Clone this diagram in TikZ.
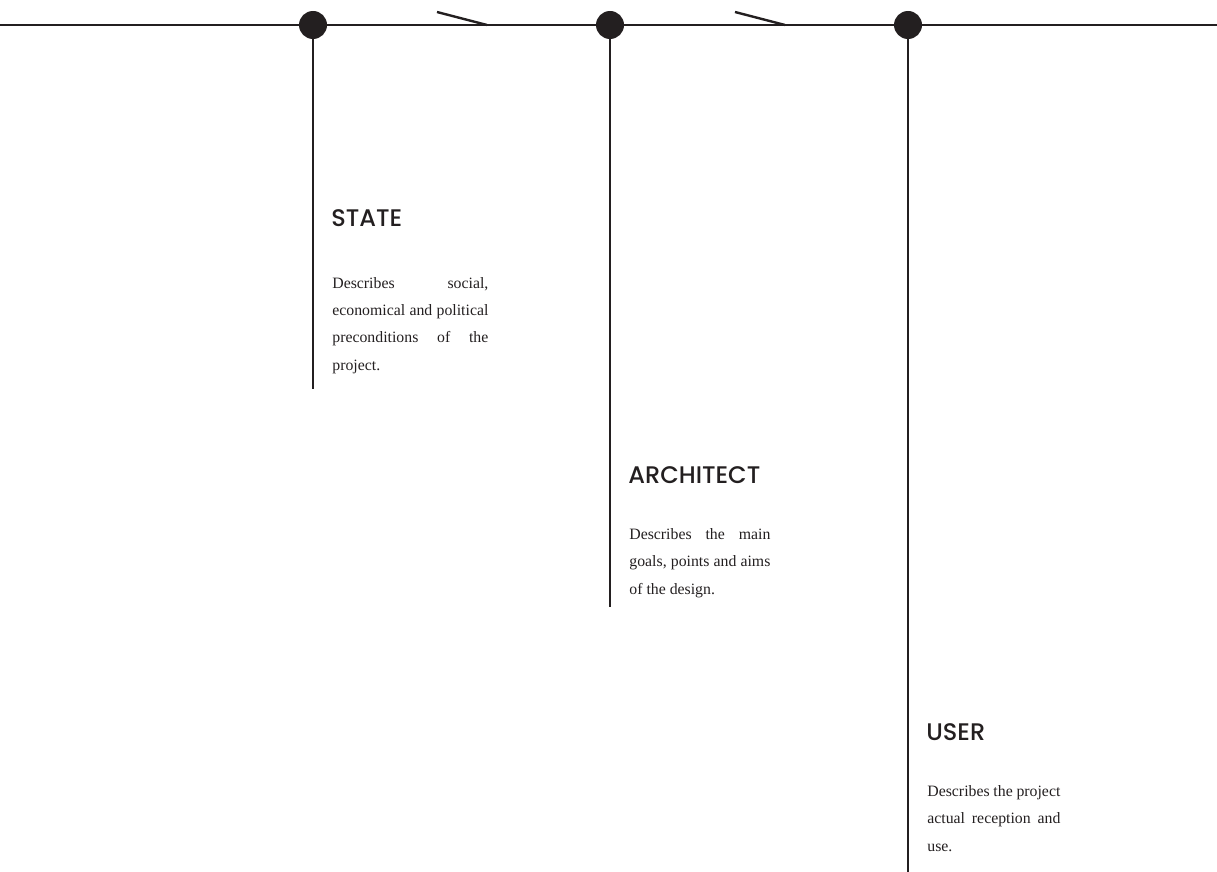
\documentclass[tikz,border=0pt]{standalone}
\usepackage{fontspec}
\setmainfont{Liberation Serif}
\newfontfamily\headfont{Poppins Medium}
\definecolor{ink}{HTML}{231F20}

\begin{document}
\begin{tikzpicture}[x=0.5pt, y=-0.5pt, color=ink, line width=1.4pt,
  dot/.style={circle, fill=ink, inner sep=0pt, minimum size=14pt},
  slash/.style={line width=1.2pt},
  head/.style={font=\headfont\fontsize{12}{14}\selectfont, anchor=base west, inner sep=0pt},
  body/.style={font=\fontsize{7.9}{13.75}\selectfont, anchor=base west, inner sep=0pt, align=justify}]

  \useasboundingbox (0,0) rectangle (1217,872);

  % --- time line with the three stations ---
  \coordinate (lineL) at (0,25);
  \coordinate (lineR) at (1217,25);
  \draw (lineL) -- (lineR);

  \coordinate (endState) at (313,389);
  \coordinate (endArch) at (610,607);
  \coordinate (endUser) at (908,872);
  \node[dot] (dotState) at (313,25) {};
  \node[dot] (dotArch) at (610,25) {};
  \node[dot] (dotUser) at (908,25) {};
  \draw (dotState.center) -- (endState);
  \draw (dotArch.center) -- (endArch);
  \draw (dotUser.center) -- (endUser);

  % slanted marks between the stations
  \coordinate (slashAtop) at (437,12);
  \coordinate (slashAbot) at (487,25);
  \coordinate (slashBtop) at (735,12);
  \coordinate (slashBbot) at (785,25);
  \draw[slash] (slashAtop) -- (slashAbot);
  \draw[slash] (slashBtop) -- (slashBbot);

  % --- State ---
  \node[head] (hdState) at (330,227) {STATE};
  \node[body, text width=78pt] (txtState) at (331,288)
    {Describes social,\linebreak economical and political\linebreak preconditions of the\linebreak project.};

  % --- Architect ---
  \node[head] (hdArch) at (627,483) {ARCHITECT};
  \node[body, text width=70.5pt] (txtArch) at (628,539)
    {Describes the main\linebreak goals, points and aims\linebreak of the design.};

  % --- User ---
  \node[head] (hdUser) at (925,740) {USER};
  \node[body, text width=66.5pt] (txtUser) at (926,796)
    {Describes the project\linebreak actual reception and\linebreak use.};
\end{tikzpicture}
\end{document}
